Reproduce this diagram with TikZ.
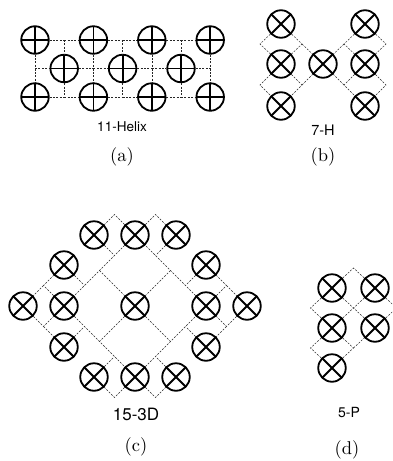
\documentclass[tikz,border=0pt]{standalone}
\usepackage{fontspec}
\newfontfamily\labelsans{TeX Gyre Heros}
\newfontfamily\tagserif{lmroman10-regular.otf}
\begin{document}
\begin{tikzpicture}[x=1pt,y=-1pt,
  ring/.style={circle, draw, line width=1.8pt, fill=white, minimum size=27.5pt, inner sep=0pt},
  plusring/.style={ring, path picture={\draw[line width=1.8pt]
      (path picture bounding box.north) -- (path picture bounding box.south)
      (path picture bounding box.west) -- (path picture bounding box.east);}},
  crossring/.style={ring, path picture={\draw[line width=1.8pt]
      (path picture bounding box.north west) -- (path picture bounding box.south east)
      (path picture bounding box.north east) -- (path picture bounding box.south west);}},
  link/.style={line width=0.5pt, black!85, dash pattern=on 2pt off 1.4pt},
  sanslabel/.style={font=\labelsans\fontsize{#1}{#1}\selectfont, inner sep=0pt},
  tag/.style={font=\tagserif\fontsize{18.5}{18.5}\selectfont, inner sep=0pt}]
\useasboundingbox (0,0) rectangle (392,461);
\clip (0,0) rectangle (392,461);

% ---------- (a) 11-Helix: checkerboard of rings on a square grid ----------
\foreach \c in {0,...,6}{
  \foreach \r in {0,1,2}{
    \pgfmathtruncatemacro\pty{mod(\c+\r,2)}
    \ifnum\pty=0
      \node[plusring] (a-\c-\r) at (35+\c*29.2, 40+\r*28.5) {};
    \else
      \coordinate (a-\c-\r) at (35+\c*29.2, 40+\r*28.5);
    \fi
  }
}
\foreach \c in {0,...,5}{
  \foreach \r in {0,1,2}{
    \pgfmathtruncatemacro\nc{\c+1}
    \draw[link] (a-\c-\r) -- (a-\nc-\r);
  }
}
\foreach \c in {0,...,6}{
  \foreach \r in {0,1}{
    \pgfmathtruncatemacro\nr{\r+1}
    \draw[link] (a-\c-\r) -- (a-\c-\nr);
  }
}
\node[sanslabel=13.5] (la) at (122,127) {11-Helix};
\node[tag] (ta) at (122,157) {(a)};

% ---------- (b) 7-H ----------
\node[crossring] (bL1) at (281,24) {};
\node[crossring] (bL2) at (281,64) {};
\node[crossring] (bL3) at (281,106) {};
\node[crossring] (bC)  at (323,64) {};
\node[crossring] (bR1) at (365,24) {};
\node[crossring] (bR2) at (365,64) {};
\node[crossring] (bR3) at (365,106) {};
\coordinate (bv1) at (260,44);
\coordinate (bv2) at (302,44);
\coordinate (bv3) at (260,85);
\coordinate (bv4) at (302,85);
\coordinate (bv5) at (344,44);
\coordinate (bv6) at (386,44);
\coordinate (bv7) at (344,85);
\coordinate (bv8) at (386,85);
\draw[link] (bL1) -- (bv1) -- (bL2);
\draw[link] (bL1) -- (bv2) -- (bL2);
\draw[link] (bv2) -- (bC);
\draw[link] (bL2) -- (bv3) -- (bL3);
\draw[link] (bL2) -- (bv4) -- (bL3);
\draw[link] (bv4) -- (bC);
\draw[link] (bR1) -- (bv6) -- (bR2);
\draw[link] (bR1) -- (bv5) -- (bR2);
\draw[link] (bv5) -- (bC);
\draw[link] (bR2) -- (bv8) -- (bR3);
\draw[link] (bR2) -- (bv7) -- (bR3);
\draw[link] (bv7) -- (bC);
\node[sanslabel=14.5] (lb) at (323,130) {7-H};
\node[tag] (tb) at (323,157) {(b)};

% ---------- (c) 15-3D ----------
% large 2x2 diamond
\node[crossring] (cC)   at (135,306) {};
\node[crossring] (cT)   at (135,235) {};
\node[crossring] (cL)   at (64,306) {};
\node[crossring] (cR)   at (206,306) {};
\node[crossring] (cB)   at (135,377) {};
\coordinate (mTL) at (99.5,270.5);
\coordinate (mTR) at (170.5,270.5);
\coordinate (mBL) at (99.5,341.5);
\coordinate (mBR) at (170.5,341.5);
% outer rings
\node[crossring] (cA1) at (94,235) {};
\node[crossring] (cA2) at (176,235) {};
\node[crossring] (cL1) at (64,265) {};
\node[crossring] (cL2) at (23,306) {};
\node[crossring] (cL3) at (64,347) {};
\node[crossring] (cR1) at (206,265) {};
\node[crossring] (cR2) at (247,306) {};
\node[crossring] (cR3) at (206,347) {};
\node[crossring] (cB1) at (94,377) {};
\node[crossring] (cB2) at (176,377) {};
% small cell corners
\coordinate (pT1) at (114.5,214.5);
\coordinate (pT2) at (114.5,255.5);
\coordinate (pT3) at (155.5,214.5);
\coordinate (pT4) at (155.5,255.5);
\coordinate (pL1) at (43.5,285.5);
\coordinate (pL2) at (84.5,285.5);
\coordinate (pL3) at (43.5,326.5);
\coordinate (pL4) at (84.5,326.5);
\coordinate (pR1) at (226.5,285.5);
\coordinate (pR2) at (185.5,285.5);
\coordinate (pR3) at (226.5,326.5);
\coordinate (pR4) at (185.5,326.5);
\coordinate (pB1) at (114.5,356.5);
\coordinate (pB2) at (114.5,397.5);
\coordinate (pB3) at (155.5,356.5);
\coordinate (pB4) at (155.5,397.5);
% big diamond
\draw[link] (cT) -- (cL);
\draw[link] (cL) -- (cB);
\draw[link] (cB) -- (cR);
\draw[link] (cR) -- (cT);
\draw[link] (mTL) -- (cC) -- (mBR);
\draw[link] (mTR) -- (cC) -- (mBL);
% small cells
\draw[link] (cT) -- (pT1) -- (cA1) -- (pT2);
\draw[link] (cT) -- (pT3) -- (cA2) -- (pT4);
\draw[link] (cL) -- (pL1) -- (cL1) -- (pL2);
\draw[link] (pL1) -- (cL2) -- (pL3) -- (cL);
\draw[link] (pL3) -- (cL3) -- (pL4);
\draw[link] (cR) -- (pR1) -- (cR1) -- (pR2);
\draw[link] (pR1) -- (cR2) -- (pR3) -- (cR);
\draw[link] (pR3) -- (cR3) -- (pR4);
\draw[link] (cB) -- (pB2) -- (cB1) -- (pB1);
\draw[link] (cB) -- (pB4) -- (cB2) -- (pB3);
\node[sanslabel=17] (lc) at (136,414) {15-3D};
\node[tag] (tc) at (136,447) {(c)};

% ---------- (d) 5-P ----------
\node[crossring] (dTL) at (332,288) {};
\node[crossring] (dTR) at (375,288) {};
\node[crossring] (dML) at (332,328) {};
\node[crossring] (dMR) at (375,328) {};
\node[crossring] (dBL) at (332,368) {};
\coordinate (dp)  at (353.5,268);
\coordinate (dl1) at (310.5,308);
\coordinate (dc)  at (353.5,308);
\coordinate (dr)  at (396.5,308);
\coordinate (dl2) at (310.5,348);
\coordinate (dc2) at (353.5,348);
\draw[link] (dTL) -- (dp) -- (dTR);
\draw[link] (dTL) -- (dl1) -- (dML);
\draw[link] (dTL) -- (dc) -- (dMR);
\draw[link] (dTR) -- (dc) -- (dML);
\draw[link] (dTR) -- (dr) -- (dMR);
\draw[link] (dML) -- (dl2) -- (dBL);
\draw[link] (dML) -- (dc2) -- (dBL);
\draw[link] (dc2) -- (dMR);
\node[sanslabel=14] (ld) at (349,412) {5-P};
\node[tag] (td) at (347,450) {(d)};
\end{tikzpicture}
\end{document}
